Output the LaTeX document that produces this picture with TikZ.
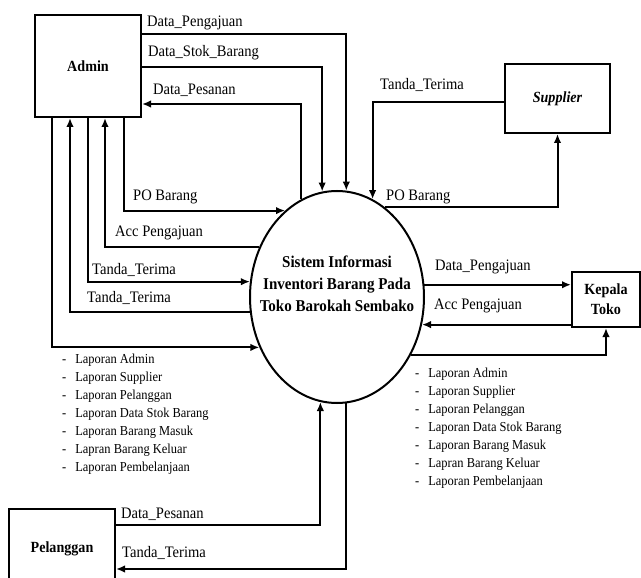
\documentclass[tikz,border=0pt]{standalone}
\usepackage{fontspec}
\setmainfont{Liberation Serif}[FakeStretch=0.91]
\usetikzlibrary{arrows.meta,shapes.geometric}
\newcommand{\daftarlaporan}{{\fontsize{13.7}{18}\selectfont
        \begin{tabular}{@{}l@{\hspace{9pt}}l@{}}
        - & Laporan Admin\\
        - & Laporan Supplier\\
        - & Laporan Pelanggan\\
        - & Laporan Data Stok Barang\\
        - & Laporan Barang Masuk\\
        - & Lapran Barang Keluar\\
        - & Laporan Pembelanjaan
        \end{tabular}}}

\begin{document}
\begin{tikzpicture}[x=1pt, y=-1pt,
        entitas/.style={draw, line width=2pt, inner sep=0pt, align=center, font=\fontsize{15.5}{20}\selectfont\bfseries},
        proses/.style={draw, ellipse, line width=2pt, minimum width=174pt, minimum height=212pt, inner sep=0pt},
        judul/.style={align=center, inner sep=0pt, font=\fontsize{16.5}{22}\selectfont\bfseries},
        alir/.style={line width=2pt, -{Latex[length=9pt,width=7.5pt]}},
        ket/.style={anchor=west, inner sep=0pt, font=\fontsize{16}{18}\selectfont},
        laporan/.style={anchor=west, inner sep=0pt}]
        \useasboundingbox (0,0) rectangle (641,578);
        \node[entitas, minimum width=106pt, minimum height=102pt] (admin) at (88,66) {Admin};
        \node[entitas, minimum width=105pt, minimum height=69pt] (supplier) at (557.5,98.5) {\itshape Supplier};
        \node[entitas, minimum width=68pt, minimum height=55pt] (kepala) at (606,299.5) {Kepala\\Toko};
        \node[entitas, minimum width=106pt, minimum height=80pt] (pelanggan) at (62,549) {Pelanggan};
        \node[proses] (sistem) at (337,297) {};
        \node[judul] (judul) at ([yshift=13.5pt]sistem.center) {Sistem Informasi\\Inventori Barang Pada\\Toko Barokah Sembako};

        \draw[alir] (admin.east |- 0,34) -| (sistem.85.1);
        \draw[alir] (admin.east |- 0,67) -| (sistem.98.2);
        \draw[alir] (sistem.110.5) |- (admin.east |- 0,104);
        \draw[alir] (admin.south -| 124,0) |- (sistem.121.5);
        \draw[alir] (sistem.147.6) -| (admin.south -| 105,0);
        \draw[alir] (admin.south -| 88,0) |- (sistem.170.1);
        \draw[alir] (sistem.190.5) -| (admin.south -| 70,0);
        \draw[alir] (admin.south -| 52,0) |- (sistem.213.8);
        \draw[alir] (supplier.west |- 0,102) -| (sistem.70.8);
        \draw[alir] (sistem.62) -| (supplier.south);
        \draw[alir] (sistem.8.6) -- (sistem.8.6 -| kepala.west);
        \draw[alir] (kepala.west |- sistem.342.9) -- (sistem.342.9);
        \draw[alir] (sistem.322.1) -| (kepala.south);
        \draw[alir] (pelanggan.east |- 0,525) -| (sistem.261.8);
        \draw[alir] (sistem.275.4) |- (pelanggan.east |- 0,569);

        \node[ket] (lPengajuanAdmin) at (147,23) {Data\_Pengajuan};
        \node[ket] (lStokAdmin) at (148,53) {Data\_Stok\_Barang};
        \node[ket] (lPesananAdmin) at (153,90) {Data\_Pesanan};
        \node[ket] (lPOAdmin) at (133,197) {PO Barang};
        \node[ket] (lAccAdmin) at (115,233) {Acc Pengajuan};
        \node[ket] (lTerimaAdminA) at (92,270) {Tanda\_Terima};
        \node[ket] (lTerimaAdminB) at (87,298) {Tanda\_Terima};
        \node[ket] (lTerimaSupplier) at (380,85) {Tanda\_Terima};
        \node[ket] (lPOSupplier) at (386,197) {PO Barang};
        \node[ket] (lPengajuanKepala) at (435,267) {Data\_Pengajuan};
        \node[ket] (lAccKepala) at (434,306) {Acc Pengajuan};
        \node[ket] (lPesananPelanggan) at (121,514) {Data\_Pesanan};
        \node[ket] (lTerimaPelanggan) at (122,553) {Tanda\_Terima};
        \node[laporan] (laporanAdmin) at (62,413.5) {\daftarlaporan};
        \node[laporan] (laporanKepala) at (415,427.5) {\daftarlaporan};
      \end{tikzpicture}
\end{document}
